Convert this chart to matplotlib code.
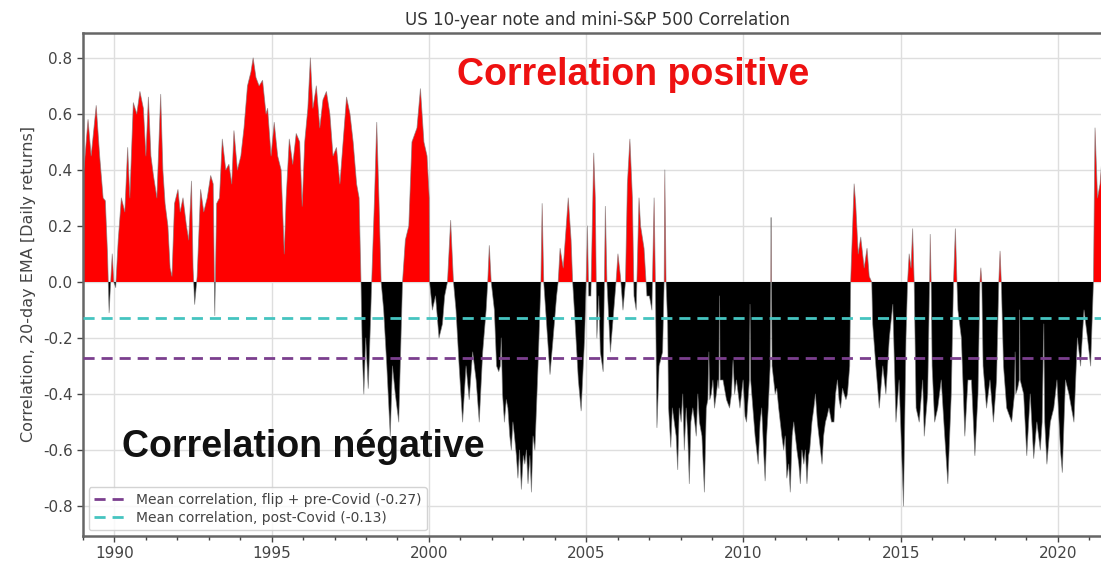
import numpy as np
import matplotlib
matplotlib.use("Agg")
import matplotlib.pyplot as plt

# 20-day EMA correlation between US 10-year note and mini-S&P 500 daily returns
years_1989_1994 = [1989.03, 1989.16, 1989.26, 1989.42, 1989.53, 1989.64, 1989.71, 1989.78, 1989.83, 1989.88,
                   1989.93, 1989.98, 1990.04, 1990.12, 1990.22, 1990.33, 1990.42, 1990.49, 1990.60, 1990.71,
                   1990.81, 1990.92, 1991.00, 1991.08, 1991.16, 1991.24, 1991.35, 1991.47, 1991.54, 1991.61,
                   1991.70, 1991.77, 1991.83, 1991.91, 1992.02, 1992.09, 1992.18, 1992.29, 1992.36, 1992.45,
                   1992.50, 1992.55, 1992.63, 1992.74, 1992.84, 1992.95, 1993.06, 1993.14, 1993.19, 1993.25,
                   1993.34, 1993.43, 1993.54, 1993.64, 1993.73, 1993.80, 1993.91, 1994.02, 1994.12, 1994.23,
                   1994.34, 1994.41, 1994.50, 1994.60, 1994.71, 1994.82]
corr_1989_1994 = [0.40, 0.58, 0.45, 0.63, 0.45, 0.30, 0.29, 0.10, -0.11, 0.00,
                  0.10, 0.00, -0.02, 0.15, 0.30, 0.25, 0.48, 0.30, 0.64, 0.60,
                  0.68, 0.62, 0.45, 0.66, 0.45, 0.38, 0.30, 0.67, 0.40, 0.28,
                  0.20, 0.05, 0.02, 0.28, 0.33, 0.25, 0.30, 0.20, 0.15, 0.36,
                  0.05, -0.08, 0.02, 0.33, 0.25, 0.30, 0.38, 0.35, -0.12, 0.28,
                  0.30, 0.51, 0.40, 0.42, 0.35, 0.54, 0.40, 0.45, 0.55, 0.70,
                  0.75, 0.80, 0.73, 0.70, 0.72, 0.60]

years_1995_1999 = [1994.87, 1994.98, 1995.08, 1995.19, 1995.30, 1995.40, 1995.46, 1995.56, 1995.67, 1995.78,
                   1995.89, 1995.97, 1996.05, 1996.15, 1996.23, 1996.31, 1996.42, 1996.53, 1996.63, 1996.74,
                   1996.85, 1996.95, 1997.06, 1997.17, 1997.27, 1997.38, 1997.49, 1997.59, 1997.70, 1997.78,
                   1997.84, 1997.88, 1997.93, 1997.99, 1998.07, 1998.14, 1998.18, 1998.27, 1998.34, 1998.41,
                   1998.48, 1998.56, 1998.66, 1998.77, 1998.84, 1998.93, 1999.04, 1999.10, 1999.16, 1999.25,
                   1999.36, 1999.46, 1999.62, 1999.73, 1999.84, 1999.94, 2000.01]
corr_1995_1999 = [0.62, 0.45, 0.57, 0.45, 0.40, 0.10, 0.30, 0.51, 0.42, 0.53,
                  0.50, 0.27, 0.50, 0.62, 0.80, 0.62, 0.70, 0.55, 0.65, 0.68,
                  0.60, 0.45, 0.48, 0.35, 0.50, 0.66, 0.60, 0.50, 0.35, 0.30,
                  0.00, -0.25, -0.40, -0.20, -0.38, -0.15, 0.00, 0.30, 0.57, 0.30,
                  0.00, -0.10, -0.30, -0.55, -0.30, -0.40, -0.50, -0.25, 0.00, 0.15,
                  0.20, 0.50, 0.55, 0.69, 0.50, 0.45, 0.30]

years_2000_2004 = [2000.02, 2000.11, 2000.21, 2000.32, 2000.43, 2000.50, 2000.59, 2000.69, 2000.78, 2000.86,
                   2000.96, 2001.07, 2001.18, 2001.28, 2001.39, 2001.50, 2001.60, 2001.71, 2001.82, 2001.87,
                   2001.92, 2001.98, 2002.08, 2002.15, 2002.22, 2002.27, 2002.30, 2002.34, 2002.40, 2002.46,
                   2002.51, 2002.57, 2002.62, 2002.67, 2002.72, 2002.78, 2002.83, 2002.88, 2002.94, 2003.00,
                   2003.05, 2003.10, 2003.15, 2003.21, 2003.26, 2003.31, 2003.37, 2003.42, 2003.47, 2003.56,
                   2003.60, 2003.65, 2003.74, 2003.85, 2003.95, 2004.06, 2004.11, 2004.17, 2004.27, 2004.43,
                   2004.52, 2004.57, 2004.65, 2004.75, 2004.84, 2004.95, 2005.00]
corr_2000_2004 = [0.00, -0.10, -0.05, -0.20, -0.15, -0.05, 0.00, 0.22, 0.00, -0.10,
                  -0.30, -0.50, -0.30, -0.42, -0.25, -0.35, -0.50, -0.25, -0.10, 0.00,
                  0.13, 0.00, -0.10, -0.30, -0.32, -0.30, -0.20, -0.40, -0.50, -0.42,
                  -0.45, -0.55, -0.60, -0.50, -0.55, -0.62, -0.70, -0.60, -0.74, -0.62,
                  -0.65, -0.60, -0.72, -0.62, -0.75, -0.55, -0.60, -0.45, -0.30, 0.00,
                  0.28, 0.00, -0.15, -0.33, -0.20, -0.05, 0.00, 0.12, 0.05, 0.30,
                  0.15, 0.00, -0.15, -0.35, -0.46, -0.20, 0.00]

years_2005_2009 = [2005.04, 2005.08, 2005.15, 2005.24, 2005.29, 2005.34, 2005.40, 2005.45, 2005.54, 2005.58,
                   2005.61, 2005.66, 2005.77, 2005.88, 2005.95, 2006.01, 2006.09, 2006.17, 2006.25, 2006.31,
                   2006.39, 2006.47, 2006.52, 2006.59, 2006.68, 2006.73, 2006.84, 2006.93, 2007.01, 2007.09,
                   2007.16, 2007.20, 2007.25, 2007.32, 2007.43, 2007.48, 2007.50, 2007.54, 2007.59, 2007.62,
                   2007.69, 2007.74, 2007.80, 2007.86, 2007.91, 2007.96, 2008.02, 2008.07, 2008.12, 2008.18,
                   2008.23, 2008.28, 2008.33, 2008.39, 2008.45, 2008.50, 2008.55, 2008.60, 2008.68, 2008.76,
                   2008.82, 2008.87, 2008.90, 2008.93, 2008.98, 2009.03, 2009.08, 2009.14, 2009.19, 2009.22,
                   2009.24, 2009.26, 2009.35, 2009.46, 2009.56, 2009.62, 2009.67, 2009.72]
corr_2005_2009 = [0.20, -0.05, -0.05, 0.46, 0.30, -0.20, -0.05, -0.25, -0.32, 0.00,
                  0.27, 0.00, -0.25, -0.10, 0.00, 0.10, 0.02, -0.10, 0.00, 0.35,
                  0.51, 0.30, -0.05, -0.10, 0.30, 0.20, 0.12, -0.05, -0.05, -0.10,
                  0.30, 0.00, -0.52, -0.30, -0.25, 0.00, 0.40, 0.00, -0.15, -0.45,
                  -0.59, -0.45, -0.50, -0.55, -0.67, -0.45, -0.50, -0.40, -0.60, -0.45,
                  -0.55, -0.72, -0.50, -0.45, -0.50, -0.55, -0.40, -0.50, -0.55, -0.75,
                  -0.45, -0.42, -0.25, -0.42, -0.40, -0.35, -0.45, -0.40, -0.35, -0.38,
                  -0.05, -0.35, -0.35, -0.42, -0.45, -0.40, -0.28, -0.40]

years_2009_2014 = [2009.78, 2009.89, 2009.99, 2010.05, 2010.10, 2010.19, 2010.21, 2010.23, 2010.30, 2010.37,
                   2010.42, 2010.47, 2010.53, 2010.58, 2010.64, 2010.69, 2010.74, 2010.79, 2010.85, 2010.87,
                   2010.88, 2010.89, 2010.91, 2010.96, 2011.01, 2011.06, 2011.12, 2011.17, 2011.22, 2011.28,
                   2011.33, 2011.38, 2011.44, 2011.49, 2011.55, 2011.60, 2011.65, 2011.70, 2011.76, 2011.81,
                   2011.86, 2011.92, 2011.97, 2012.02, 2012.07, 2012.11, 2012.18, 2012.24, 2012.29, 2012.35,
                   2012.40, 2012.45, 2012.50, 2012.55, 2012.61, 2012.66, 2012.72, 2012.80, 2012.88, 2012.93,
                   2012.99, 2013.04, 2013.09, 2013.15, 2013.20, 2013.26, 2013.31, 2013.38, 2013.41, 2013.52,
                   2013.57, 2013.65, 2013.73, 2013.84, 2013.93, 2014.00, 2014.08, 2014.11, 2014.21, 2014.32,
                   2014.43, 2014.53, 2014.64, 2014.75]
corr_2009_2014 = [-0.35, -0.45, -0.35, -0.48, -0.50, -0.35, -0.08, -0.35, -0.45, -0.55,
                  -0.60, -0.65, -0.50, -0.45, -0.60, -0.71, -0.55, -0.45, -0.30, 0.00,
                  0.23, 0.00, -0.30, -0.35, -0.40, -0.38, -0.45, -0.50, -0.55, -0.60,
                  -0.55, -0.70, -0.65, -0.75, -0.55, -0.50, -0.55, -0.60, -0.65, -0.72,
                  -0.60, -0.65, -0.60, -0.72, -0.62, -0.60, -0.50, -0.45, -0.40, -0.50,
                  -0.55, -0.60, -0.65, -0.55, -0.50, -0.48, -0.45, -0.50, -0.50, -0.40,
                  -0.35, -0.42, -0.45, -0.38, -0.40, -0.42, -0.40, -0.30, 0.00, 0.35,
                  0.28, 0.10, 0.16, 0.05, 0.12, 0.02, 0.00, -0.15, -0.30, -0.45,
                  -0.30, -0.40, -0.20, -0.08]

years_2015_2021 = [2014.85, 2014.95, 2015.09, 2015.17, 2015.22, 2015.27, 2015.33, 2015.38, 2015.43, 2015.49,
                   2015.59, 2015.70, 2015.75, 2015.86, 2015.92, 2015.94, 2015.97, 2016.00, 2016.08, 2016.18,
                   2016.29, 2016.40, 2016.50, 2016.61, 2016.68, 2016.74, 2016.79, 2016.82, 2016.93, 2017.04,
                   2017.14, 2017.25, 2017.36, 2017.46, 2017.52, 2017.55, 2017.58, 2017.62, 2017.73, 2017.84,
                   2017.95, 2018.05, 2018.12, 2018.16, 2018.20, 2018.27, 2018.37, 2018.53, 2018.62, 2018.64,
                   2018.66, 2018.72, 2018.77, 2018.78, 2018.80, 2018.91, 2019.01, 2019.12, 2019.23, 2019.33,
                   2019.44, 2019.50, 2019.55, 2019.58, 2019.65, 2019.76, 2019.87, 2019.97, 2020.08, 2020.14,
                   2020.24, 2020.35, 2020.51, 2020.62, 2020.72, 2020.83, 2020.94, 2021.04, 2021.13, 2021.18,
                   2021.26, 2021.34, 2021.42, 2021.49, 2021.55, 2021.60, 2021.66]
corr_2015_2021 = [-0.50, -0.35, -0.80, -0.20, 0.00, 0.10, 0.05, 0.19, 0.00, -0.45,
                  -0.50, -0.35, -0.55, -0.40, 0.00, 0.17, 0.00, -0.30, -0.50, -0.45,
                  -0.35, -0.55, -0.72, -0.40, 0.00, 0.19, 0.00, -0.10, -0.20, -0.55,
                  -0.35, -0.35, -0.62, -0.40, 0.00, 0.05, 0.00, -0.30, -0.45, -0.35,
                  -0.50, -0.35, 0.00, 0.11, 0.00, -0.30, -0.45, -0.50, -0.40, -0.25,
                  -0.40, -0.38, -0.35, -0.10, -0.35, -0.40, -0.62, -0.40, -0.63, -0.50,
                  -0.60, -0.50, -0.15, -0.50, -0.65, -0.50, -0.45, -0.35, -0.60, -0.68,
                  -0.35, -0.40, -0.50, -0.20, -0.30, -0.10, -0.20, -0.30, 0.00, 0.55,
                  0.30, 0.35, 0.47, 0.30, 0.00, -0.32, -0.25]

mean_pre_covid = -0.27
mean_post_covid = -0.13
legend_labels = ["Mean correlation, flip + pre-Covid (-0.27)",
                 "Mean correlation, post-Covid (-0.13)"]
year_ticks = [1990, 1995, 2000, 2005, 2010, 2015, 2020]
corr_ticks = [0.8, 0.6, 0.4, 0.2, 0.0, -0.2, -0.4, -0.6, -0.8]

t = np.array(years_1989_1994 + years_1995_1999 + years_2000_2004 +
             years_2005_2009 + years_2009_2014 + years_2015_2021)
c = np.array(corr_1989_1994 + corr_1995_1999 + corr_2000_2004 +
             corr_2005_2009 + corr_2009_2014 + corr_2015_2021)

plt.rcParams['font.family'] = ['DejaVu Sans']
fig = plt.figure(figsize=(11.01, 5.63), dpi=100)
ax = fig.add_axes([83 / 1101, 1 - 536 / 563, 1 - 83 / 1101 + 0.01, (536 - 33) / 563])

ax.fill_between(t, c, 0, where=c >= 0, interpolate=True, color='#ff0000', lw=0, zorder=2)
ax.fill_between(t, c, 0, where=c <= 0, interpolate=True, color='#000000', lw=0, zorder=2)
ax.plot(t, c, color='#7a7a7a', lw=0.6, alpha=0.7, zorder=3)

ax.axhline(mean_pre_covid, color='#7b3f8e', lw=2, ls=(0, (4, 2.5)), zorder=4, label=legend_labels[0])
ax.axhline(mean_post_covid, color='#45c4c0', lw=2, ls=(0, (4, 2.5)), zorder=4, label=legend_labels[1])

ax.set_xlim(1989.04, 2021.72)
ax.set_ylim(-0.907, 0.889)
ax.set_xticks(year_ticks)
ax.set_xticks(np.arange(1989, 2022), minor=True)
ax.set_yticks(corr_ticks)
ax.set_yticklabels([f"{v:.1f}" for v in corr_ticks])
ax.grid(True, which='major', color='#dedede', lw=1, zorder=0)
ax.set_axisbelow(True)
ax.tick_params(axis='both', which='major', labelsize=11, colors='#444444', length=4, width=1)
ax.tick_params(axis='x', which='minor', length=3, width=1, colors='#444444')
ax.tick_params(axis='y', which='minor', left=False)
for side in ['top', 'left', 'bottom']:
    ax.spines[side].set_color('#666666')
    ax.spines[side].set_linewidth(1.8)
ax.spines['right'].set_visible(False)

ax.set_ylabel("Correlation, 20-day EMA [Daily returns]", fontsize=11.5, color='#444444', labelpad=5)
ax.set_title("US 10-year note and mini-S&P 500 Correlation", fontsize=12, color='#333333', pad=6)

fig.text(457 / 1101, 1 - 85 / 563, "Correlation positive", color='#ee1111', fontsize=27,
         fontweight='bold', family='Liberation Sans', va='baseline', ha='left')
fig.text(122 / 1101, 1 - 457 / 563, "Correlation négative", color='#111111', fontsize=27,
         fontweight='bold', family='Liberation Sans', va='baseline', ha='left')

leg = ax.legend(loc='lower left', fontsize=10, frameon=True, framealpha=0.85, edgecolor='#cccccc',
                borderaxespad=0.4, handlelength=2.2, labelspacing=0.3, labelcolor='#444444')
leg.set_zorder(6)

fig.savefig("out.png", dpi=100)
